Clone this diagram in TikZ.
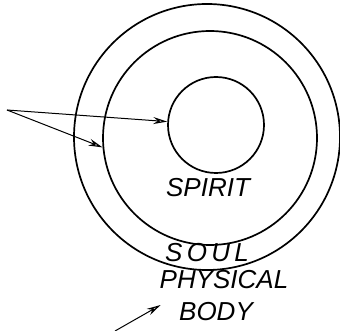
\documentclass[tikz,border=0pt]{standalone}
\usepackage{fontspec}
\setmainfont{Liberation Sans}
\usetikzlibrary{arrows.meta}

\begin{document}
\begin{tikzpicture}[x=1pt,y=-1pt,
    ring/.style={draw,circle,line width=1.7pt,inner sep=0pt},
    pointer/.style={line width=1pt,-{Stealth[open,length=14pt,width=7pt,line width=1.2pt]}},
    word/.style={font=\fontsize{26}{28}\selectfont\itshape}]
        \useasboundingbox (0,0) rectangle (340,331);
        % three rings: body outside, soul, spirit inside
        \node[ring,minimum size=266pt] (body) at (207,137) {};
        \node[ring,minimum size=214pt] (soul) at (210,138) {};
        \node[ring,minimum size=96pt] (spirit) at (216,125) {};
        % labels
        \node[word] (spiritlbl) at (208,188) {SPIRIT};
        \node[word] (soullbl) at (207,253) {S\,O\,U\,L};
        \node[word] (physlbl) at (224,280) {PHYSICAL};
        \node[word] (bodylbl) at (216,312) {BODY};
        % two pointers from the left edge
        \coordinate (tail) at (7,110);
        \draw[pointer] (tail) -- (spirit.176);
        \draw[pointer] (tail) -- (soul.185);
        % pointer up to the body label
        \coordinate (foot) at (115,331);
        \draw[pointer] (foot) -- ([xshift=-15pt,yshift=7pt]bodylbl.west);
      \end{tikzpicture}
\end{document}
